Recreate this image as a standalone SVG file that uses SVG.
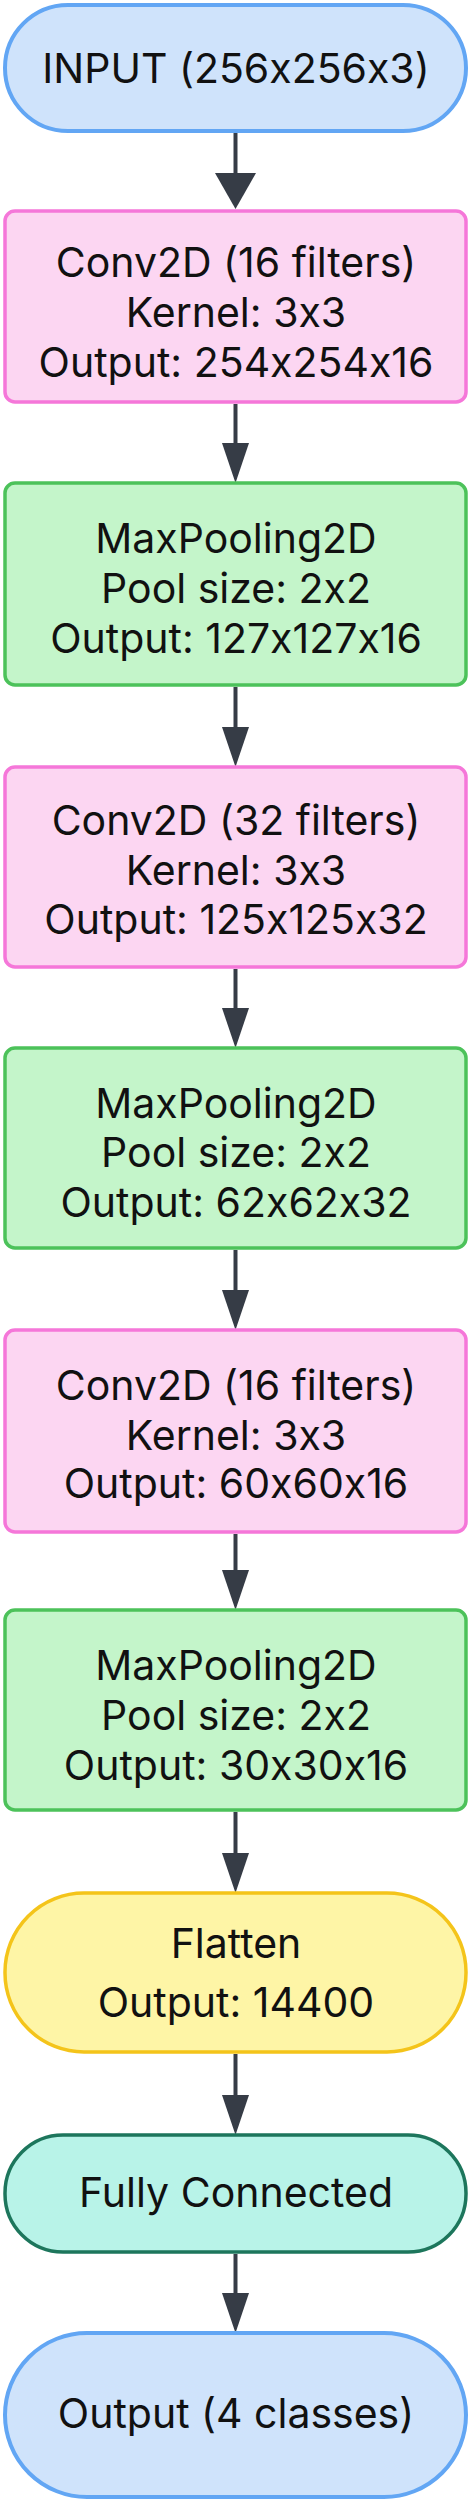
<svg xmlns="http://www.w3.org/2000/svg" width="471" height="2500" viewBox="0 0 471 2500">
<style>
text{font-family:Inter,"Noto Sans","Liberation Sans",sans-serif;font-size:41px;fill:#111;text-anchor:middle;font-feature-settings:"calt" 0;font-variant-ligatures:no-contextual}
.blue{fill:#cfe3fb;stroke:#62a6f4;stroke-width:4}
.pink{fill:#fcd6f2;stroke:#f577d9;stroke-width:3.5}
.green{fill:#c4f5ca;stroke:#4cc25a;stroke-width:3.5}
.yellow{fill:#fef5a6;stroke:#f4c41a;stroke-width:3.5}
.teal{fill:#b8f3e8;stroke:#1d765c;stroke-width:3.5}
.edge{stroke:#363c46;stroke-width:4;fill:none}
</style>
<defs>
<marker id="head" markerUnits="userSpaceOnUse" viewBox="0 0 40 27" markerWidth="40" markerHeight="27" refX="2" refY="13.5" orient="auto"><path d="M0,0 L40,13.5 L0,27 z" fill="#363c46"/></marker>
<marker id="headWide" markerUnits="userSpaceOnUse" viewBox="0 0 36 41" markerWidth="36" markerHeight="41" refX="2" refY="20.5" orient="auto"><path d="M0,0 L36,20.5 L0,41 z" fill="#363c46"/></marker>
</defs>
<g id="connectors">
<path class="edge" d="M235.5,133 V175" marker-end="url(#headWide)"/>
<path class="edge" d="M235.5,404 V445" marker-end="url(#head)"/>
<path class="edge" d="M235.5,687 V729" marker-end="url(#head)"/>
<path class="edge" d="M235.5,969 V1010" marker-end="url(#head)"/>
<path class="edge" d="M235.5,1250 V1292" marker-end="url(#head)"/>
<path class="edge" d="M235.5,1534 V1572" marker-end="url(#head)"/>
<path class="edge" d="M235.5,1812 V1855" marker-end="url(#head)"/>
<path class="edge" d="M235.5,2054 V2097" marker-end="url(#head)"/>
<path class="edge" d="M235.5,2254 V2295" marker-end="url(#head)"/>
</g>
<g id="input">
<rect class="blue" x="5" y="5" width="461" height="126" rx="63"/>
<text x="236" y="83">INPUT (256x256x3)</text>
</g>
<g id="conv1">
<rect class="pink" x="5" y="211" width="461" height="191" rx="10"/>
<text x="236" y="277">Conv2D (16 filters)</text>
<text x="236" y="327">Kernel: 3x3</text>
<text x="236" y="377">Output: 254x254x16</text>
</g>
<g id="pool1">
<rect class="green" x="5" y="483" width="461" height="202" rx="10"/>
<text x="236" y="553">MaxPooling2D</text>
<text x="236" y="603">Pool size: 2x2</text>
<text x="236" y="653">Output: 127x127x16</text>
</g>
<g id="conv2">
<rect class="pink" x="5" y="767" width="461" height="200" rx="10"/>
<text x="236" y="835">Conv2D (32 filters)</text>
<text x="236" y="885">Kernel: 3x3</text>
<text x="236" y="934">Output: 125x125x32</text>
</g>
<g id="pool2">
<rect class="green" x="5" y="1048" width="461" height="200" rx="10"/>
<text x="236" y="1118">MaxPooling2D</text>
<text x="236" y="1167">Pool size: 2x2</text>
<text x="236" y="1217">Output: 62x62x32</text>
</g>
<g id="conv3">
<rect class="pink" x="5" y="1330" width="461" height="202" rx="10"/>
<text x="236" y="1400">Conv2D (16 filters)</text>
<text x="236" y="1450">Kernel: 3x3</text>
<text x="236" y="1498">Output: 60x60x16</text>
</g>
<g id="pool3">
<rect class="green" x="5" y="1610" width="461" height="200" rx="10"/>
<text x="236" y="1680">MaxPooling2D</text>
<text x="236" y="1730">Pool size: 2x2</text>
<text x="236" y="1780">Output: 30x30x16</text>
</g>
<g id="flatten">
<rect class="yellow" x="5" y="1893" width="461" height="159" rx="79"/>
<text x="236" y="1958">Flatten</text>
<text x="236" y="2017">Output: 14400</text>
</g>
<g id="fc">
<rect class="teal" x="5" y="2135" width="461" height="117" rx="58"/>
<text x="236" y="2207">Fully Connected</text>
</g>
<g id="output">
<rect class="blue" x="5" y="2333" width="461" height="164" rx="82"/>
<text x="236" y="2428">Output (4 classes)</text>
</g>
</svg>
